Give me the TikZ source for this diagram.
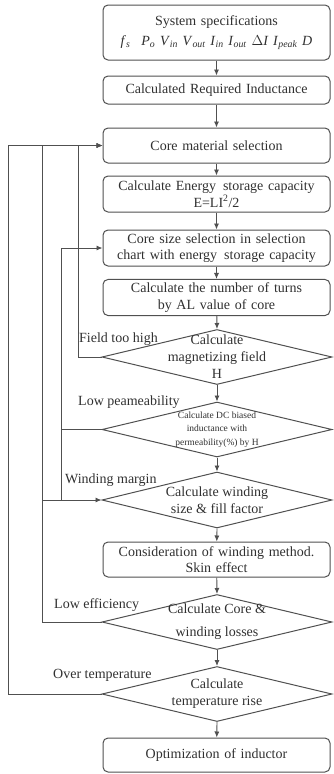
\documentclass[tikz,border=0pt]{standalone}
\usepackage{fontspec}
\setmainfont{Liberation Serif}
\usetikzlibrary{shapes.geometric,arrows.meta}

\definecolor{linegray}{HTML}{505050}
\definecolor{textgray}{HTML}{303030}

\newcommand{\symb}[2]{\textit{#1}\textsubscript{\textit{#2}}}

\tikzset{
  stepbox/.style={draw=linegray, line width=1pt, rounded corners=5pt, minimum width=227pt,
    text width=219pt, align=center, text=textgray, font=\fontsize{14}{16.5}\selectfont},
  decision/.style={draw=linegray, line width=1pt, diamond, inner sep=0pt,
    minimum width=230pt, minimum height=55pt},
  dtext/.style={text=textgray, align=center, font=\fontsize{14}{17}\selectfont},
  fbtext/.style={text=textgray, anchor=west, inner sep=0pt, font=\fontsize{14}{16}\selectfont},
  flow/.style={draw=linegray, line width=0.9pt, -{Latex[length=6pt,width=5pt]}},
  rail/.style={draw=linegray, line width=0.9pt}
}

\begin{document}
\begin{tikzpicture}[x=1pt,y=-1pt]
\useasboundingbox (0,0) rectangle (334,774);

% Main column of steps
\node[stepbox, minimum height=55pt] (spec) at (216.5,32.5) {
    System specifications\\[3pt]
    \symb{f}{s}\;\, \symb{P}{o} \symb{V}{in} \symb{V}{out} \symb{I}{in} \symb{I}{out} \textit{$\Delta$I} \symb{I}{peak} \textit{D}
};
\node[stepbox, minimum height=28pt] (induct) at (216.5,90) {Calculated Required Inductance};
\node[stepbox, minimum height=35pt] (core) at (216.5,145.5) {Core material selection};
\node[stepbox, minimum height=36pt] (energy) at (216.5,194) {
    Calculate Energy\, storage capacity\\
    E=LI\textsuperscript{2}/2
};
\node[stepbox, minimum height=36pt] (size) at (216.5,248) {
    Core size selection in selection\\
    chart with energy\, storage capacity
};
\node[stepbox, minimum height=35pt] (turns) at (216.5,297.5) {
    Calculate the number of turns\\
    by AL value of core
};

% Decisions
\node[decision, label={[dtext]center:{Calculate\\magnetizing field\\H}}] (dfield) at (217,357) {};
\node[decision, label={[dtext, font=\fontsize{9.5}{13.5}\selectfont]center:{Calculate DC biased\\inductance with\\permeability(\%) by H}}] (dbias) at (217,429.5) {};
\node[decision, minimum height=56pt, label={[dtext]center:{Calculate winding\\size \& fill factor}}] (dwind) at (217,500) {};
\node[stepbox, minimum height=35pt] (method) at (216.5,559.5) {
    Consideration of winding method.\\
    Skin effect
};
\node[decision, label={[dtext]center:{Calculate Core \&\\[6pt]winding losses}}] (dloss) at (217,622) {};
\node[decision, label={[dtext]center:{Calculate\\temperature rise}}] (dtemp) at (217,694) {};
\node[stepbox, minimum height=34pt] (opt) at (216.5,755) {Optimization of inductor};

% Forward arrows
\draw[flow] (spec) -- (induct);
\draw[flow] (induct) -- (core);
\draw[flow] (core) -- (energy);
\draw[flow] (energy) -- (size);
\draw[flow] (size) -- (turns);
\draw[flow] (turns) -- (dfield.north);
\draw[flow] (dfield.south) -- (dbias.north);
\draw[flow] (dbias.south) -- (dwind.north);
\draw[flow] (dwind.south) -- (method);
\draw[flow] (method) -- (dloss.north);
\draw[flow] (dloss.south) -- (dtemp.north);
\draw[flow] (dtemp.south) -- (opt);

% Feedback rails
\coordinate (railA) at (8,0);
\coordinate (railB) at (42,0);
\coordinate (railC) at (61,0);
\coordinate (railD) at (78,0);

\draw[flow] (dtemp.west) -- (dtemp.west -| railA) |- (core.west);
\draw[flow] (dloss.west) -- (dloss.west -| railB) |- (core.west);
\draw[flow] (dfield.west) -- (dfield.west -| railD) |- (core.west);
\draw[flow] (dbias.west) -- (dbias.west -| railC) |- (size.west);
\draw[rail] (dwind.west -| railC) -- (dbias.west -| railC);
\draw[flow] (dwind.west -| railB) -- (dwind.west);

% Loop labels
\node[fbtext] (lfield) at (79,339) {Field too high};
\node[fbtext] (lbias) at (78,402) {Low peameability};
\node[fbtext] (lwind) at (65,480) {Winding margin};
\node[fbtext] (lloss) at (54,605) {Low efficiency};
\node[fbtext] (ltemp) at (53,675) {Over temperature};
\end{tikzpicture}
\end{document}
